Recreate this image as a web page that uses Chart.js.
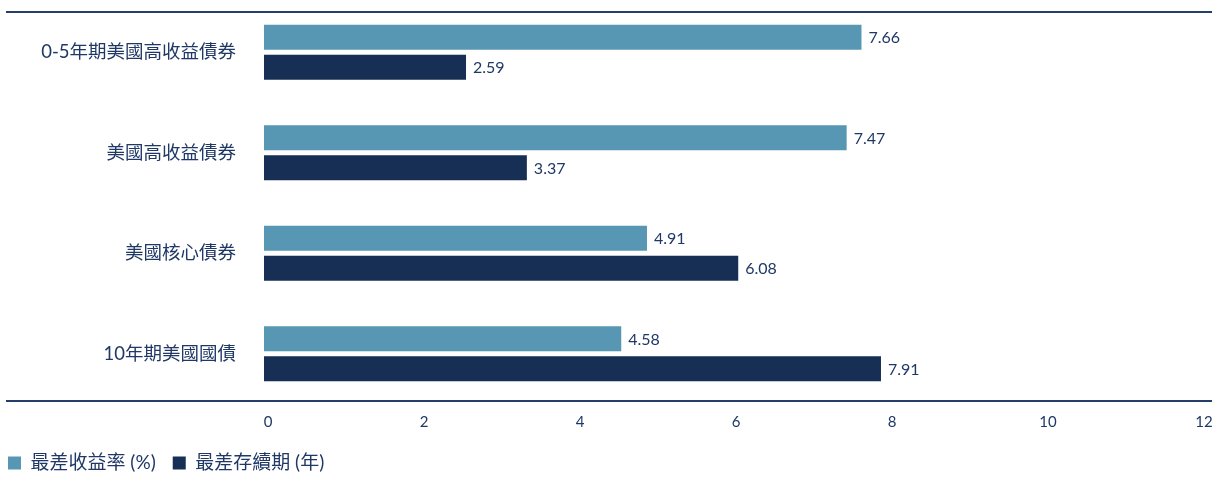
<!DOCTYPE html>
<html>
<head>
<meta charset="utf-8">
<script src="https://cdn.jsdelivr.net/npm/chart.js@4/dist/chart.umd.min.js"></script>
<style>
  html, body { margin: 0; padding: 0; background: #fff; }
  #wrap { position: relative; width: 1220px; height: 478px; }
</style>
</head>
<body>
<div id="wrap"><canvas id="chart"></canvas></div>
<script>
// chart data
const categories = ["0-5年期美國高收益債券", "美國高收益債券", "美國核心債券", "10年期美國國債"];
const yieldToWorst = [7.66, 7.47, 4.91, 4.58];
const durationToWorst = [2.59, 3.37, 6.08, 7.91];
const seriesNames = ["最差收益率 (%)", "最差存續期 (年)"];
const xTicks = [0, 2, 4, 6, 8, 10, 12];

const lightBlue = "#5797b3";
const navy = "#172f55";
const textColor = "#1f3866";
const fontFamily = "Lato, 'Noto Sans CJK TC', sans-serif";

// horizontal rules above and below the plot
const frameLines = {
    id: "frameLines",
    afterDraw(chart) {
        const { ctx, chartArea } = chart;
        ctx.save();
        ctx.strokeStyle = "#24406a";
        ctx.lineWidth = 2;
        [chartArea.top + 10, chartArea.bottom - 3].forEach(y => {
            ctx.beginPath();
            ctx.moveTo(6, y);
            ctx.lineTo(1212, y);
            ctx.stroke();
        });
        ctx.restore();
    }
};

// value labels at the end of each bar
const valueLabels = {
    id: "valueLabels",
    afterDatasetsDraw(chart) {
        const { ctx } = chart;
        ctx.save();
        ctx.font = "16px " + fontFamily;
        ctx.fillStyle = textColor;
        ctx.textAlign = "left";
        ctx.textBaseline = "middle";
        chart.data.datasets.forEach((ds, i) => {
            chart.getDatasetMeta(i).data.forEach((bar, j) => {
                ctx.fillText(ds.data[j].toFixed(2), bar.x + 7, bar.y + 1);
            });
        });
        ctx.restore();
    }
};

new Chart(document.getElementById("chart"), {
    type: "bar",
    data: {
        labels: categories,
        datasets: [
            { label: seriesNames[0], data: yieldToWorst, backgroundColor: lightBlue },
            { label: seriesNames[1], data: durationToWorst, backgroundColor: navy }
        ]
    },
    options: {
        indexAxis: "y",
        responsive: true,
        maintainAspectRatio: false,
        animation: false,
        categoryPercentage: 0.6,
        barPercentage: 0.83,
        layout: { padding: { top: 2, right: 20, bottom: -4.5, left: -9 } },
        scales: {
            x: {
                min: 0,
                max: 12,
                afterBuildTicks(scale) { scale.ticks = xTicks.map(v => ({ value: v })); },
                grid: { display: false, drawTicks: false },
                border: { display: false },
                ticks: {
                    color: textColor,
                    font: { family: fontFamily, size: 15 },
                    padding: 9,
                    labelOffset: 4
                },
                afterFit(scale) { scale.height = 32.5; }
            },
            y: {
                grid: { display: false, drawTicks: false },
                border: { display: false },
                ticks: {
                    color: textColor,
                    font: { family: fontFamily, size: 18.5 },
                    padding: 28
                },
                afterFit(scale) {
                    scale.width = 273;
                    scale.paddingTop = 0;
                    scale.paddingBottom = 0;
                }
            }
        },
        plugins: {
            legend: {
                position: "bottom",
                align: "start",
                labels: {
                    boxWidth: 13,
                    boxHeight: 13,
                    padding: 17,
                    color: textColor,
                    font: { family: fontFamily, size: 19 }
                }
            },
            tooltip: { enabled: false }
        }
    },
    plugins: [frameLines, valueLabels]
});
</script>
</body>
</html>
